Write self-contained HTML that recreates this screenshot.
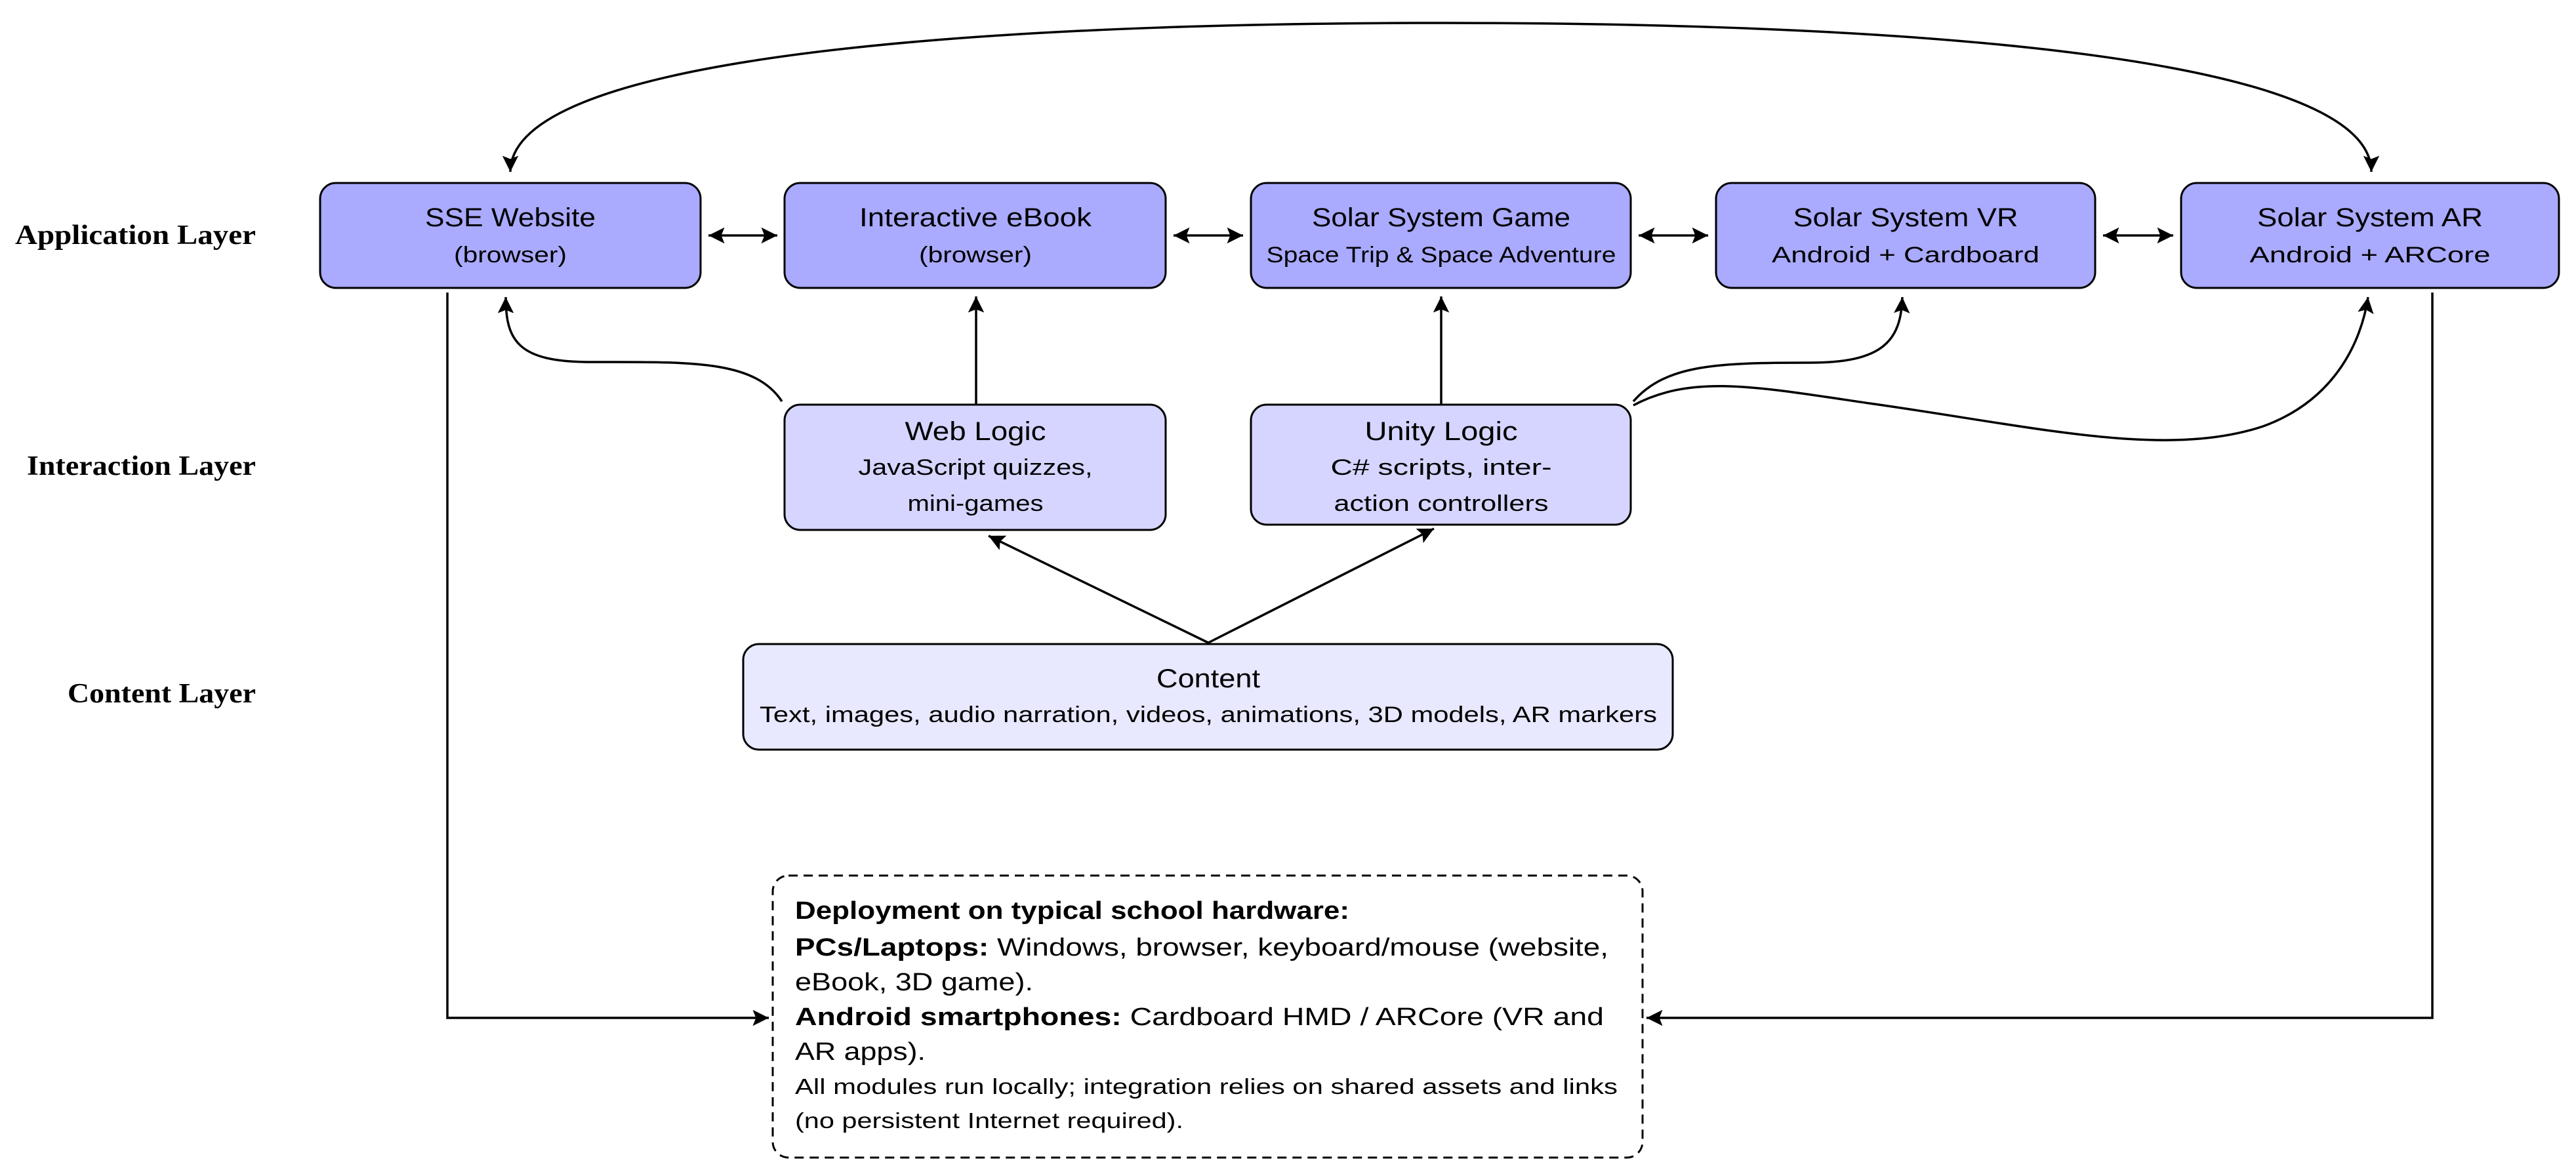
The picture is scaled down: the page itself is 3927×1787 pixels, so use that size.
<!DOCTYPE html>
<html><head><meta charset="utf-8"><style>
html,body{margin:0;padding:0;background:#fff;}
svg{display:block;}
.l{font-family:"Liberation Serif",serif;font-weight:bold;font-size:42px;}
.t{font-family:"Liberation Sans",sans-serif;font-size:40px;}
.s{font-family:"Liberation Sans",sans-serif;font-size:34px;}
.d{font-family:"Liberation Sans",sans-serif;font-size:38px;}
.ds{font-family:"Liberation Sans",sans-serif;font-size:33px;}
</style></head><body>
<svg width="3927" height="1787" viewBox="0 0 3927 1787" xmlns="http://www.w3.org/2000/svg">
<defs>
<marker id="a" viewBox="0 0 10 10" refX="10" refY="5" markerWidth="8" markerHeight="8" markerUnits="userSpaceOnUse" orient="auto-start-reverse" style="overflow:visible">
<path d="M0,0 L10,5 L0,10 L2,5 Z" fill="#000" transform="scale(1)"/>
</marker>
<marker id="b" viewBox="0 0 10 10" refX="10" refY="5" markerWidth="7" markerHeight="7" orient="auto-start-reverse">
<path d="M0,0 L10,5 L0,10 L2,5 Z" fill="#000"/>
</marker>
</defs>
<g fill="none" stroke="#000" stroke-width="3.5">
<!-- top curve -->
<path d="M778,262 C778,60 1700,35 2200,35 C2700,35 3615,60 3615,262" marker-start="url(#b)" marker-end="url(#b)"/>
<!-- double arrows -->
<path d="M1080,359 L1185,359" marker-start="url(#b)" marker-end="url(#b)"/>
<path d="M1789,359 L1895,359" marker-start="url(#b)" marker-end="url(#b)"/>
<path d="M2498,359 L2604,359" marker-start="url(#b)" marker-end="url(#b)"/>
<path d="M3206,359 L3313,359" marker-start="url(#b)" marker-end="url(#b)"/>
<!-- vertical up -->
<path d="M1488,617 L1488,452" marker-end="url(#b)"/>
<path d="M2197,617 L2197,452" marker-end="url(#b)"/>
<!-- web logic to SSE -->
<path d="M1192,612 C1150,548 1050,552 900,552 C790,552 771,520 771,453" marker-end="url(#b)"/>
<!-- unity to VR -->
<path d="M2490,612 C2540,555 2620,553 2760,553 C2870,553 2898,520 2900,453" marker-end="url(#b)"/>
<!-- unity to AR -->
<path d="M2490,618 C2580,570 2680,590 2850,615 C3100,650 3300,700 3450,650 C3560,610 3600,520 3610,453" marker-end="url(#b)"/>
<!-- content arrows -->
<path d="M1842,980 L1507,817" marker-end="url(#b)"/>
<path d="M1842,980 L2186,806" marker-end="url(#b)"/>
<!-- deployment connectors -->
<path d="M682,446 L682,1552 L1172,1552" marker-end="url(#b)"/>
<path d="M3708,446 L3708,1552 L2510,1552" marker-end="url(#b)"/>
</g>
<g stroke="#000" stroke-width="3">
<rect x="488" y="279" width="580" height="160" rx="24" fill="#aaaaff"/>
<rect x="1196" y="279" width="581" height="160" rx="24" fill="#aaaaff"/>
<rect x="1907" y="279" width="579" height="160" rx="24" fill="#aaaaff"/>
<rect x="2616" y="279" width="578" height="160" rx="24" fill="#aaaaff"/>
<rect x="3325" y="279" width="576" height="160" rx="24" fill="#aaaaff"/>
<rect x="1196" y="617" width="581" height="191" rx="24" fill="#d5d5ff"/>
<rect x="1907" y="617" width="579" height="183" rx="24" fill="#d5d5ff"/>
<rect x="1133" y="982" width="1417" height="161" rx="24" fill="#e8e8ff"/>
<rect x="1178" y="1335" width="1326" height="430" rx="24" fill="none" stroke-dasharray="14,9"/>
</g>
<g text-anchor="end" class="l">
<text x="390" y="372" textLength="367" lengthAdjust="spacingAndGlyphs">Application Layer</text>
<text x="390" y="724" textLength="349" lengthAdjust="spacingAndGlyphs">Interaction Layer</text>
<text x="390" y="1071" textLength="287" lengthAdjust="spacingAndGlyphs">Content Layer</text>
</g>
<g text-anchor="middle">
<text class="t" x="778" y="345" textLength="260" lengthAdjust="spacingAndGlyphs">SSE Website</text>
<text class="s" x="778" y="400" textLength="172" lengthAdjust="spacingAndGlyphs">(browser)</text>
<text class="t" x="1487" y="345" textLength="354" lengthAdjust="spacingAndGlyphs">Interactive eBook</text>
<text class="s" x="1487" y="400" textLength="172" lengthAdjust="spacingAndGlyphs">(browser)</text>
<text class="t" x="2197" y="345" textLength="394" lengthAdjust="spacingAndGlyphs">Solar System Game</text>
<text class="s" x="2197" y="400" textLength="533" lengthAdjust="spacingAndGlyphs">Space Trip &amp; Space Adventure</text>
<text class="t" x="2905" y="345" textLength="343" lengthAdjust="spacingAndGlyphs">Solar System VR</text>
<text class="s" x="2905" y="400" textLength="408" lengthAdjust="spacingAndGlyphs">Android + Cardboard</text>
<text class="t" x="3613" y="345" textLength="344" lengthAdjust="spacingAndGlyphs">Solar System AR</text>
<text class="s" x="3613" y="400" textLength="367" lengthAdjust="spacingAndGlyphs">Android + ARCore</text>
<text class="t" x="1487" y="671" textLength="215" lengthAdjust="spacingAndGlyphs">Web Logic</text>
<text class="s" x="1487" y="724" textLength="357" lengthAdjust="spacingAndGlyphs">JavaScript quizzes,</text>
<text class="s" x="1487" y="779" textLength="207" lengthAdjust="spacingAndGlyphs">mini-games</text>
<text class="t" x="2197" y="671" textLength="233" lengthAdjust="spacingAndGlyphs">Unity Logic</text>
<text class="s" x="2197" y="724" textLength="337" lengthAdjust="spacingAndGlyphs">C# scripts, inter-</text>
<text class="s" x="2197" y="779" textLength="327" lengthAdjust="spacingAndGlyphs">action controllers</text>
<text class="t" x="1842" y="1048" textLength="158" lengthAdjust="spacingAndGlyphs">Content</text>
<text class="s" x="1842" y="1101" textLength="1368" lengthAdjust="spacingAndGlyphs">Text, images, audio narration, videos, animations, 3D models, AR markers</text>
</g>
<g>
<text class="d" x="1212" y="1401" font-weight="bold" textLength="845" lengthAdjust="spacingAndGlyphs">Deployment on typical school hardware:</text>
<text class="d" x="1212" y="1457" textLength="1240" lengthAdjust="spacingAndGlyphs"><tspan font-weight="bold">PCs/Laptops:</tspan> Windows, browser, keyboard/mouse (website,</text>
<text class="d" x="1212" y="1510" textLength="363" lengthAdjust="spacingAndGlyphs">eBook, 3D game).</text>
<text class="d" x="1212" y="1563" textLength="1233" lengthAdjust="spacingAndGlyphs"><tspan font-weight="bold">Android smartphones:</tspan> Cardboard HMD / ARCore (VR and</text>
<text class="d" x="1212" y="1616" textLength="199" lengthAdjust="spacingAndGlyphs">AR apps).</text>
<text class="ds" x="1212" y="1668" textLength="1254" lengthAdjust="spacingAndGlyphs">All modules run locally; integration relies on shared assets and links</text>
<text class="ds" x="1212" y="1720" textLength="592" lengthAdjust="spacingAndGlyphs">(no persistent Internet required).</text>
</g>
</svg>
</body></html>
